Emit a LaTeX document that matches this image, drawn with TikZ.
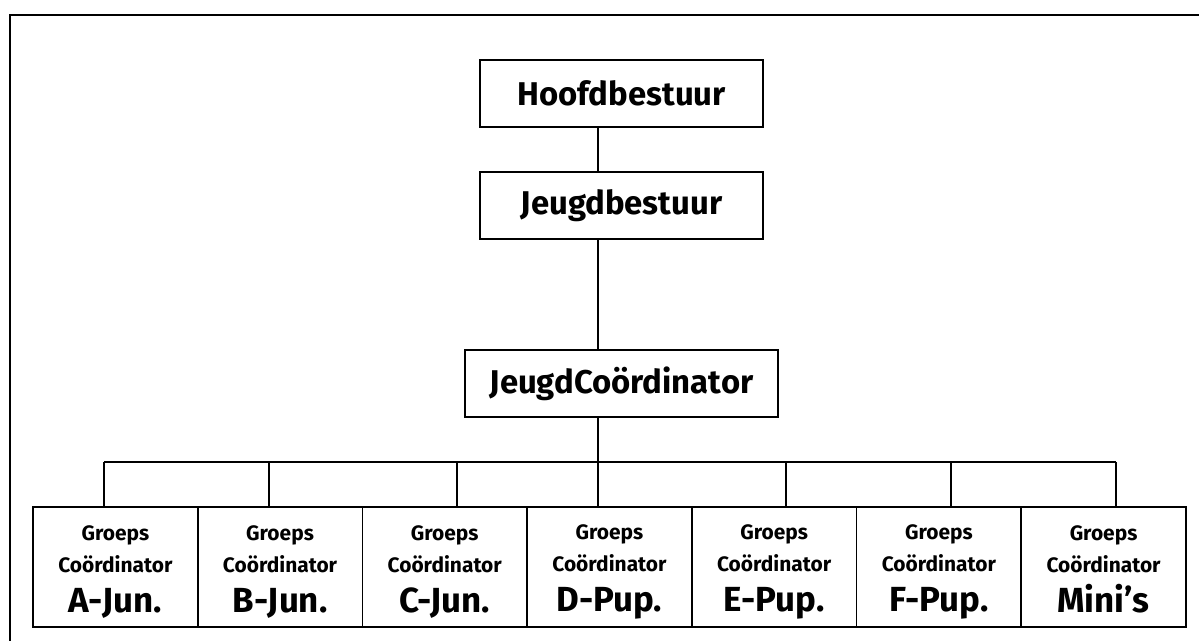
\documentclass[tikz,border=0pt]{standalone}
\usepackage{fontspec}
\setmainfont{Fira Sans}
\begin{document}
\begin{tikzpicture}[x=1bp,y=-1bp,
  line width=1.6bp,
  topbox/.style={draw, rectangle, inner sep=0pt, minimum height=67bp,
    font=\bfseries\fontsize{33}{36}\selectfont},
  groupbox/.style={draw, rectangle, inner sep=0pt, minimum width=164.7bp,
    minimum height=120bp},
  grouptext/.style={inner sep=0pt, align=center,
    font=\bfseries\fontsize{21}{32}\selectfont},
  link/.style={line width=1.6bp}]
\useasboundingbox (0,0) rectangle (1199,641);
% outer frame (top and left edges)
\draw[line width=2.4bp] (10,641) -- (10,15) -- (1199,15);

% upper hierarchy
\node[topbox, minimum width=283bp] (hb) at (621.5,93.5) {Hoofdbestuur};
\node[topbox, minimum width=283bp] (jb) at (621.5,205.5) {Jeugdbestuur};
\node[topbox, minimum width=313bp] (jc) at (621.5,383.5) {JeugdCoördinator};

\coordinate (trunk) at (598,0);
\draw[link] (hb.south -| trunk) -- (jb.north -| trunk);
\draw[link] (jb.south -| trunk) -- (jc.north -| trunk);

% group coordinators: box plus its three-line label
\foreach \i/\lbl in {0/A-Jun., 1/B-Jun., 2/C-Jun., 3/D-Pup., 4/E-Pup., 5/F-Pup., 6/Mini’s} {
  \node[groupbox] (g\i) at ({33+82.35+164.7*\i},567) {};
  \node[grouptext] (t\i) at ([yshift=-5bp]g\i.center)
    {Groeps\\
     Coördinator\\[8bp]
     {\fontsize{35}{36}\selectfont\vphantom{J}\lbl}};
}

% distribution bar and drops
\coordinate (barL) at (104,462);
\coordinate (barR) at (1116,462);
\draw[link] (jc.south -| trunk) -- (barL -| trunk);
\draw[link] (barL) -- (barR);
\foreach \i/\x in {0/104, 1/269, 2/457, 3/598, 4/786, 5/951, 6/1116} {
  \coordinate (d\i) at (\x,462);
  \draw[link] (d\i) -- (d\i |- g\i.north);
}
\end{tikzpicture}
\end{document}
